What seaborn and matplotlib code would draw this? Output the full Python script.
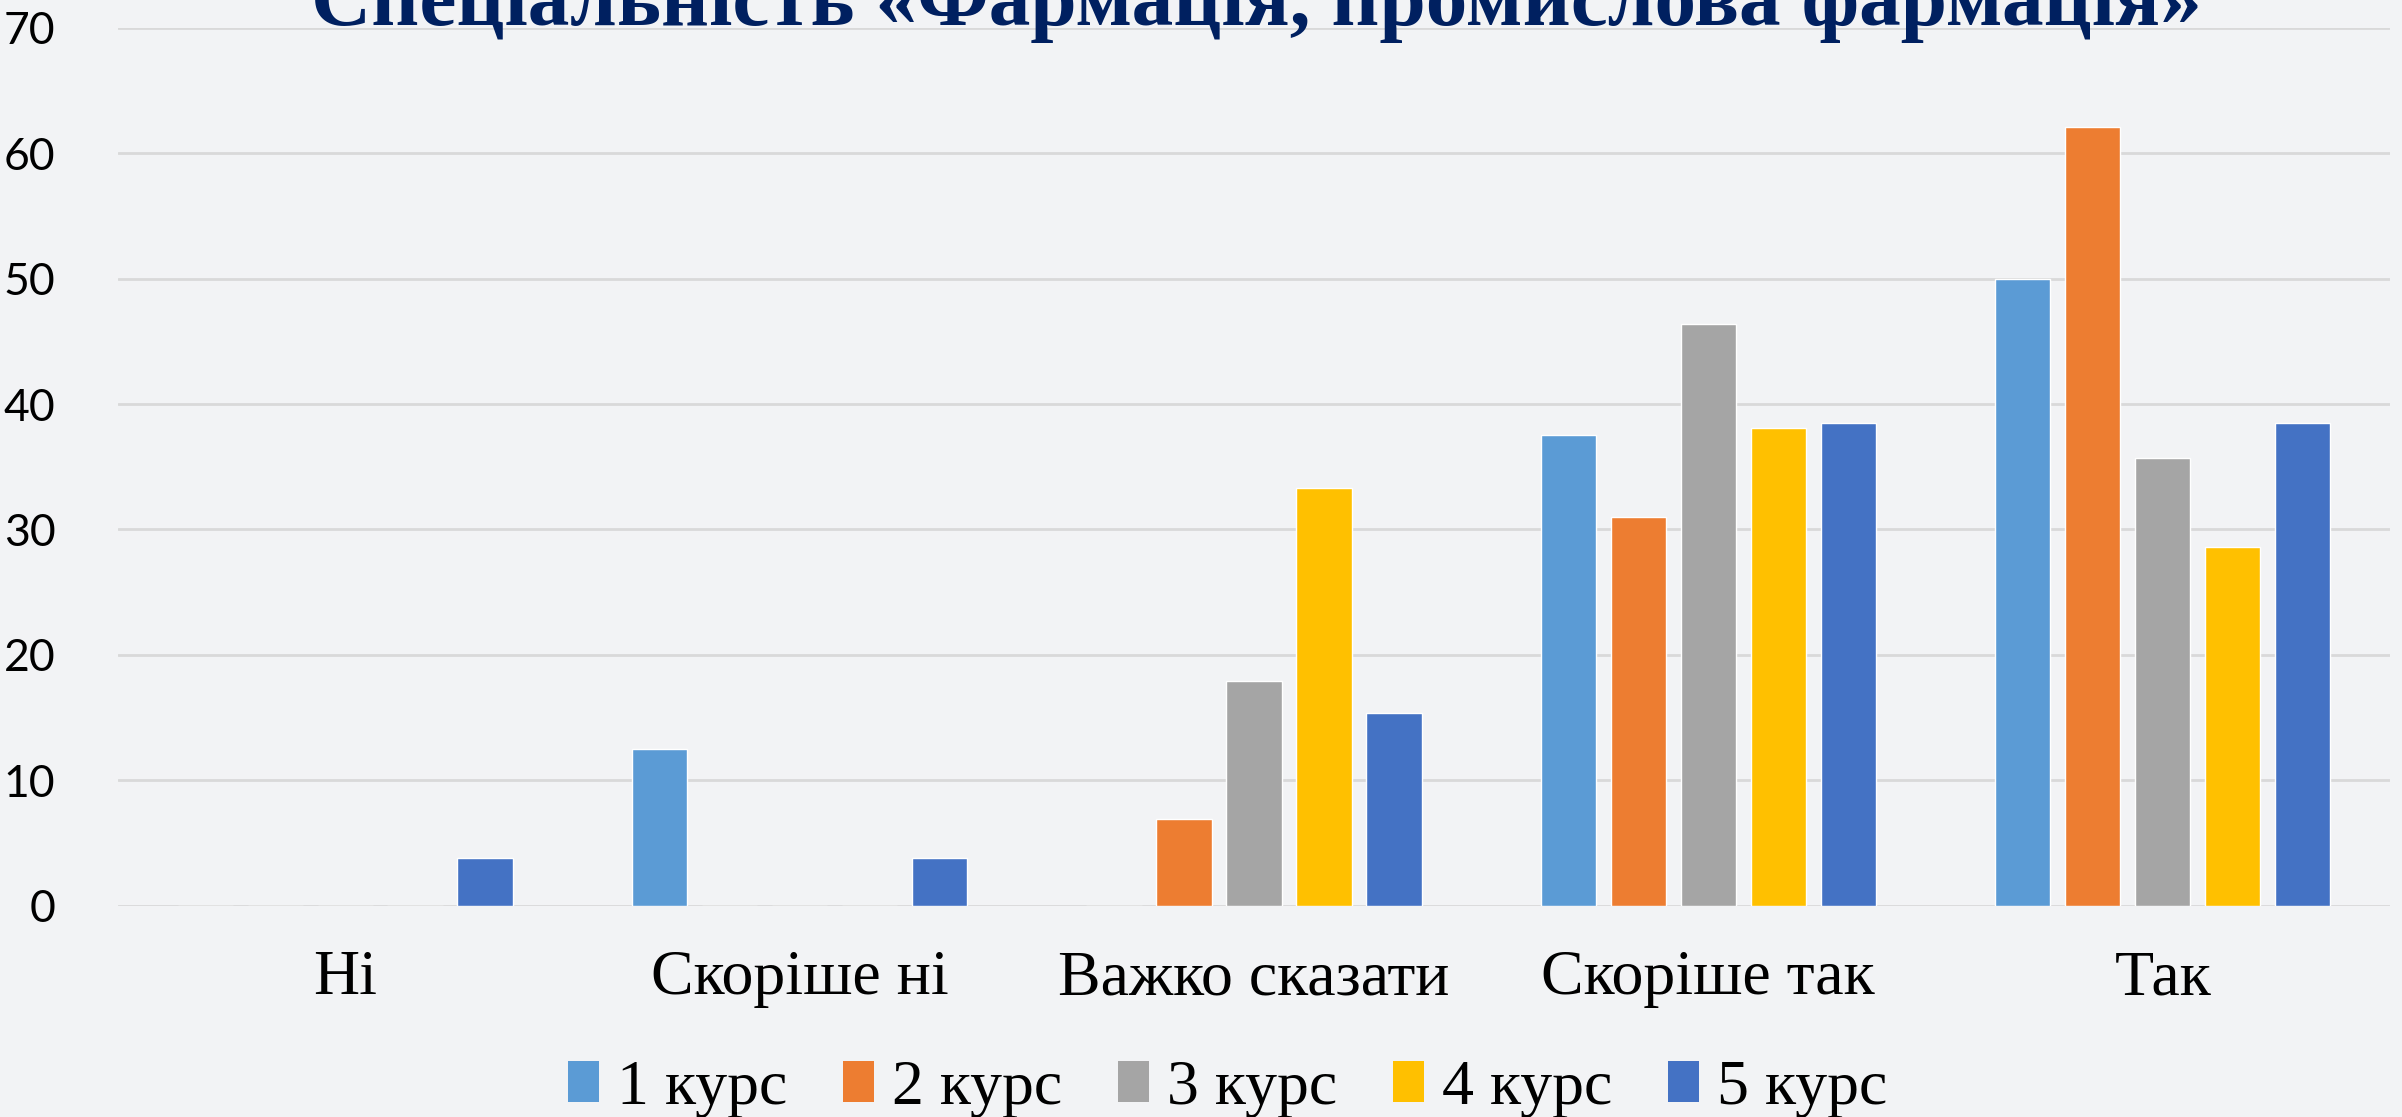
import pandas as pd
import matplotlib.pyplot as plt
import seaborn as sns
from matplotlib.patches import Patch

# --- data ---
answers = ['Ні', 'Скоріше ні', 'Важко сказати', 'Скоріше так', 'Так']
courses = ['1 курс', '2 курс', '3 курс', '4 курс', '5 курс']
course1 = [0, 12.5, 0, 37.5, 50.0]
course2 = [0, 0, 6.9, 31.0, 62.1]
course3 = [0, 0, 17.9, 46.4, 35.7]
course4 = [0, 0, 33.3, 38.1, 28.6]
course5 = [3.8, 3.8, 15.4, 38.5, 38.5]
colors = ['#5B9BD5', '#ED7D31', '#A5A5A5', '#FFC000', '#4472C4']
title = 'Спеціальність «Фармація, промислова фармація»'

# long table for seaborn
rows = []
for course, vals in zip(courses, [course1, course2, course3, course4, course5]):
    for ans, v in zip(answers, vals):
        rows.append({'answer': ans, 'course': course, 'value': v})
df = pd.DataFrame(rows)

sns.set_style('white')
plt.rcParams['text.color'] = 'black'
bg = '#f2f3f5'
fig = plt.figure(figsize=(24.02, 11.17), dpi=100, facecolor=bg)
ax = fig.add_axes([0.0491, 0.1892, 0.9459, 0.7858])
ax.set_facecolor(bg)

sns.barplot(data=df, x='answer', y='value', hue='course', order=answers,
            hue_order=courses, palette=colors, width=0.77, gap=0.21,
            errorbar=None, saturation=1, ax=ax, legend=False, zorder=3)

ax.set_ylim(0, 70)
ax.set_yticks(range(0, 71, 10))
ax.grid(axis='y', color='#d9d9d9', linewidth=2, zorder=0)
ax.set_axisbelow(True)
for s in ax.spines.values():
    s.set_visible(False)
ax.set_xlabel('')
ax.set_ylabel('')
ax.tick_params(axis='y', length=0, pad=45, labelsize=32, labelcolor='black')
ax.tick_params(axis='x', length=0, pad=32, labelsize=46, labelcolor='black')
for lbl in ax.get_yticklabels():
    lbl.set_family('Lato')
for lbl in ax.get_xticklabels():
    lbl.set_family('Liberation Serif')

# title, partly cut off at the top like in the slide
fig.text(0.523, 0.978, title, ha='center', va='baseline', fontsize=60,
         fontweight='bold', color='#002060', family='Liberation Serif')

handles = [Patch(facecolor=c, edgecolor='none') for c in colors]
fig.legend(handles, courses, loc='center', bbox_to_anchor=(0.511, 0.025),
           ncol=5, frameon=False, handlelength=0.49, handleheight=0.6,
           handletextpad=0.28, columnspacing=0.87, labelcolor='black',
           prop={'family': 'Liberation Serif', 'size': 46})

plt.savefig('out.png', dpi=100, facecolor=bg)
